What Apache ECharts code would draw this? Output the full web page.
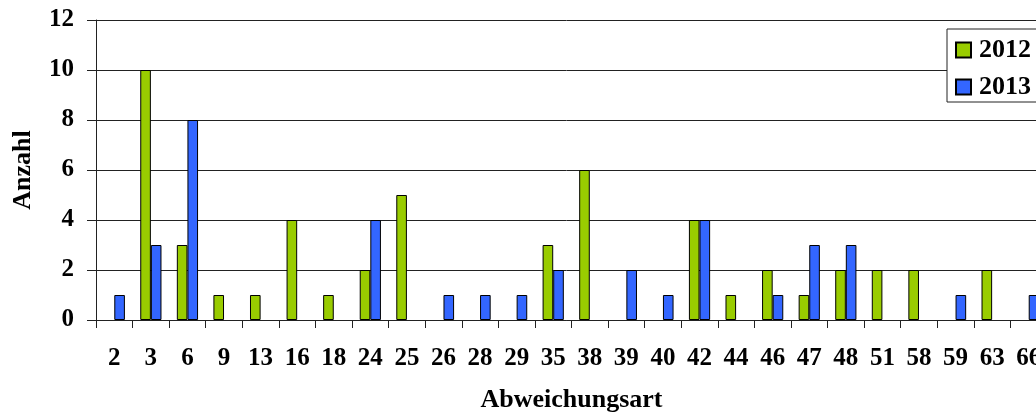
<!DOCTYPE html>
<html>
<head>
<meta charset="utf-8">
<script src="https://cdn.jsdelivr.net/npm/echarts@6/dist/echarts.min.js"></script>
<style>
  html, body { margin: 0; padding: 0; background: #fff; overflow: hidden; }
  #chart { width: 1036px; height: 414px; }
</style>
</head>
<body>
<div id="chart"></div>
<script>
// Deviation types and counts per year
const categories = ['2', '3', '6', '9', '13', '16', '18', '24', '25', '26', '28', '29', '35',
  '38', '39', '40', '42', '44', '46', '47', '48', '51', '58', '59', '63', '66'];
const values2012 = [0, 10, 3, 1, 1, 4, 1, 2, 5, 0, 0, 0, 3, 6, 0, 0, 4, 1, 2, 1, 2, 2, 2, 0, 2, 0];
const values2013 = [1, 3, 8, 0, 0, 0, 0, 4, 0, 1, 1, 1, 2, 0, 2, 1, 4, 0, 1, 3, 3, 0, 0, 1, 0, 1];
const seriesNames = ['2012', '2013'];
const yTicks = { min: 0, max: 12, interval: 2 };

const font = 'Liberation Serif';
const ink = '#000';

// empty counts draw no bar at all (no outline on the axis)
const asBars = (arr) => arr.map(v => (v === 0 ? '-' : v));

const labelStyle = { fontFamily: font, fontWeight: 'bold', fontSize: 25, color: ink };
const titleStyle = { fontFamily: font, fontWeight: 'bold', fontSize: 26, color: ink };

const chart = echarts.init(document.getElementById('chart'), null, { renderer: 'canvas' });

chart.setOption({
  animation: false,
  backgroundColor: '#fff',
  // the plot runs a little past the right edge of the canvas
  grid: { left: 96, right: -11, top: 20, bottom: 94, containLabel: false, outerBoundsMode: 'none' },
  legend: {
    orient: 'vertical',
    left: 947,
    top: 29,
    itemWidth: 15,
    itemHeight: 15,
    itemGap: 11,
    padding: [8, 30, 2, 8],
    backgroundColor: '#fff',
    borderColor: '#222',
    borderWidth: 1,
    icon: 'rect',
    textStyle: Object.assign({}, titleStyle, { padding: [0, 0, 0, 3] }),
    data: seriesNames
  },
  xAxis: {
    type: 'category',
    data: categories,
    name: 'Abweichungsart',
    nameLocation: 'middle',
    nameGap: 67,
    nameTextStyle: titleStyle,
    axisLine: { lineStyle: { color: '#222', width: 1 } },
    axisTick: { show: true, length: 8, lineStyle: { color: '#222' } },
    axisLabel: Object.assign({ interval: 0, margin: 26 }, labelStyle)
  },
  yAxis: {
    type: 'value',
    min: yTicks.min,
    max: yTicks.max,
    interval: yTicks.interval,
    name: 'Anzahl',
    nameLocation: 'middle',
    nameGap: 60,
    nameTextStyle: titleStyle,
    axisLine: { show: true, lineStyle: { color: '#222', width: 1 } },
    axisTick: { show: true, length: 9, lineStyle: { color: '#222' } },
    axisLabel: Object.assign({ margin: 22 }, labelStyle),
    splitLine: { show: true, lineStyle: { color: '#222', width: 1 } }
  },
  series: [
    {
      name: seriesNames[0],
      type: 'bar',
      data: asBars(values2012),
      barGap: '0%',
      barCategoryGap: '42%',
      itemStyle: { color: '#99CC00', borderColor: '#000', borderWidth: 1 }
    },
    {
      name: seriesNames[1],
      type: 'bar',
      data: asBars(values2013),
      barGap: '0%',
      barCategoryGap: '42%',
      itemStyle: { color: '#3366FF', borderColor: '#000', borderWidth: 1 }
    }
  ]
});
</script>
</body>
</html>
